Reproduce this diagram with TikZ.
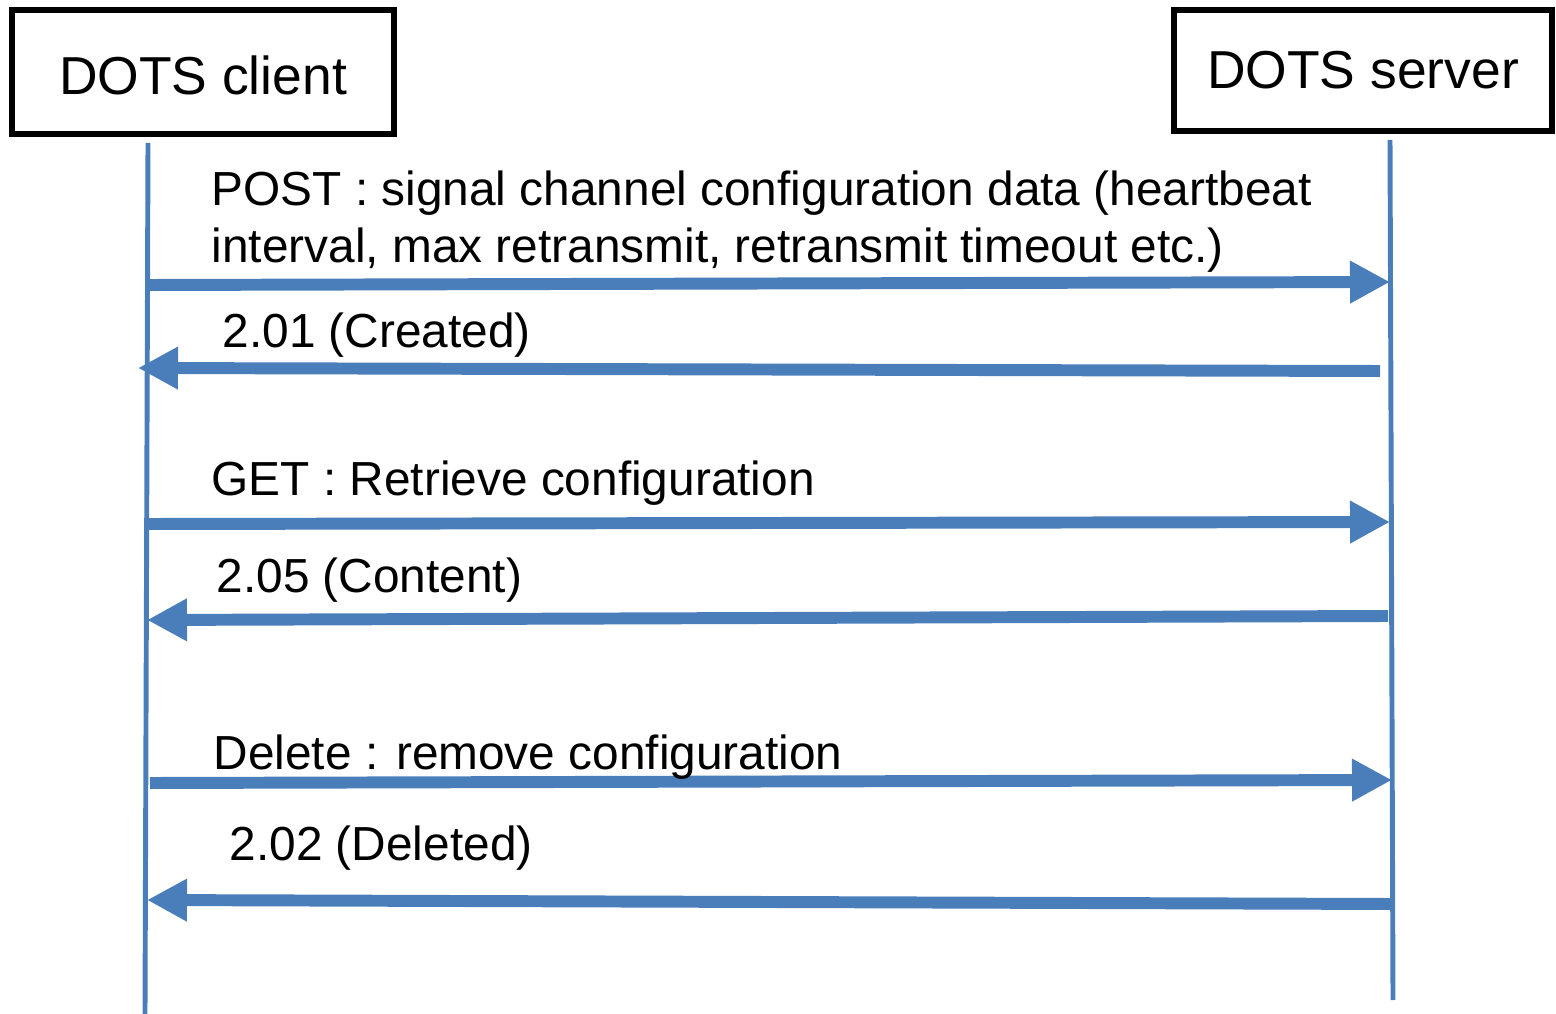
\documentclass[tikz,border=0pt]{standalone}
\usepackage{fontspec}
\setmainfont{Liberation Sans}
\usetikzlibrary{arrows.meta}
\definecolor{lineblue}{RGB}{74,126,187}

\begin{document}
\begin{tikzpicture}[
  actor/.style={draw=black,line width=1.6pt,inner sep=0pt,font=\fontsize{15.2}{18}\selectfont},
  lifeline/.style={lineblue,line width=1.4pt},
  msg/.style={lineblue,line width=3.4pt,-{Triangle[length=0.4cm,width=0.4cm]}},
  msglabel/.style={anchor=base west,inner sep=0pt,align=left,font=\fontsize{13.6}{16.5}\selectfont}]
	\useasboundingbox (0,0) rectangle (15.56,-10.14);
	% the two parties
	\node[actor,minimum width=3.82cm,minimum height=1.24cm,text height=0.45cm] (client) at (2.03,-0.72) {DOTS client};
	\node[actor,minimum width=3.78cm,minimum height=1.21cm] (server) at (13.63,-0.705) {DOTS server};
	% lifelines
	\coordinate (client-top) at (1.48,-1.43);
	\coordinate (client-bot) at (1.45,-10.14);
	\coordinate (server-top) at (13.90,-1.40);
	\coordinate (server-bot) at (13.93,-10.00);
	\draw[lifeline] (client-top) -- (client-bot);
	\draw[lifeline] (server-top) -- (server-bot);
	% message ends
	\coordinate (post-c) at (1.50,-2.85);   \coordinate (post-s) at (13.90,-2.82);
	\coordinate (created-s) at (13.80,-3.71); \coordinate (created-c) at (1.38,-3.68);
	\coordinate (get-c) at (1.47,-5.24);    \coordinate (get-s) at (13.90,-5.22);
	\coordinate (content-s) at (13.88,-6.16); \coordinate (content-c) at (1.47,-6.20);
	\coordinate (delete-c) at (1.50,-7.83); \coordinate (delete-s) at (13.92,-7.80);
	\coordinate (deleted-s) at (13.92,-9.04); \coordinate (deleted-c) at (1.47,-9.00);
	% messages
	\draw[msg] (post-c) -- (post-s);
	\draw[msg] (created-s) -- (created-c);
	\draw[msg] (get-c) -- (get-s);
	\draw[msg] (content-s) -- (content-c);
	\draw[msg] (delete-c) -- (delete-s);
	\draw[msg] (deleted-s) -- (deleted-c);
	% labels
	\node[msglabel] (post-lbl) at (2.11,-2.63) {POST : signal channel configuration data (heartbeat\\interval, max retransmit, retransmit timeout etc.)};
	\node[msglabel] (created-lbl) at (2.22,-3.48) {2.01 (Created)};
	\node[msglabel] (get-lbl) at (2.11,-4.96) {GET : Retrieve configuration};
	\node[msglabel] (content-lbl) at (2.16,-5.93) {2.05 (Content)};
	\node[msglabel] (delete-lbl) at (2.13,-7.69) {Delete : remove configuration};
	\node[msglabel] (deleted-lbl) at (2.29,-8.60) {2.02 (Deleted)};
\end{tikzpicture}
\end{document}
